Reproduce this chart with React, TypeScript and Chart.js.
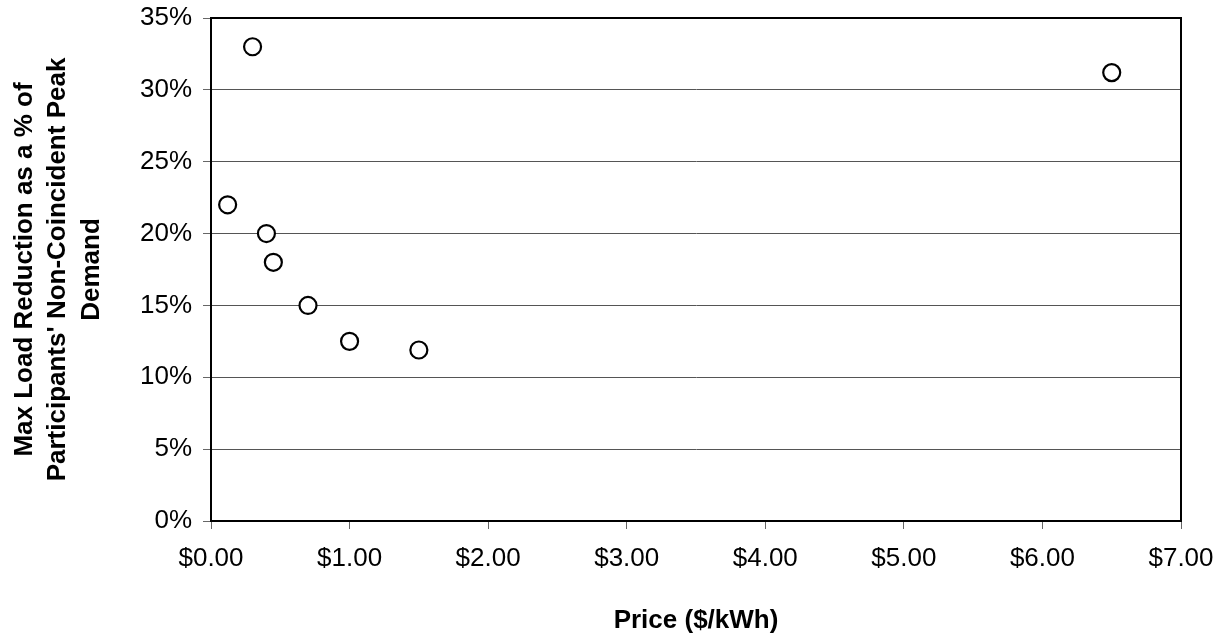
import React, { useEffect, useRef } from "react";
import { Chart, registerables } from "chart.js";

Chart.register(...registerables);

const prices = [0.3, 0.12, 0.4, 0.45, 0.7, 1.0, 1.5, 6.5];
const reductions = [33, 22, 20, 18, 15, 12.5, 11.9, 31.2];
const xTitle = "Price ($/kWh)";
const yTitleLines = [
  "Max Load Reduction as a % of",
  "Participants' Non-Coincident Peak",
  "Demand",
];

const FONT = "'Liberation Sans', Arial, sans-serif";

const frame = {
  id: "frame",
  afterDraw(chart: any) {
    const { ctx, chartArea } = chart;
    ctx.save();
    ctx.strokeStyle = "#000";
    ctx.lineWidth = 2;
    ctx.strokeRect(chartArea.left, chartArea.top, chartArea.right - chartArea.left, chartArea.bottom - chartArea.top);
    ctx.restore();
  },
};

export default function App() {
  const ref = useRef<HTMLCanvasElement>(null);
  useEffect(() => {
    if (!ref.current) return;
    const chart = new Chart(ref.current, {
      type: "scatter",
      data: {
        datasets: [
          {
            data: prices.map((p, i) => ({ x: p, y: reductions[i] })),
            pointRadius: 8.5,
            pointHoverRadius: 8.5,
            pointBackgroundColor: "#fff",
            pointBorderColor: "#000",
            pointBorderWidth: 2.2,
          },
        ],
      },
      options: {
        responsive: false,
        animation: false,
        devicePixelRatio: 1,
        layout: { padding: { top: 18, right: 38, left: 0, bottom: 0 } },
        plugins: { legend: { display: false }, tooltip: { enabled: false } },
        scales: {
          x: {
            type: "linear",
            min: 0,
            max: 7,
            afterFit: (s: any) => {
              s.height = 116;
              s.paddingLeft = 0;
              s.paddingRight = 0;
            },
            ticks: {
              stepSize: 1,
              color: "#000",
              padding: 14,
              font: { family: FONT, size: 26 },
              callback: (v: any) => "$" + Number(v).toFixed(2),
            },
            grid: { drawOnChartArea: false, drawTicks: true, tickLength: 8, tickColor: "#666", color: "#666" },
            border: { display: true, color: "#000", width: 2 },
            title: {
              display: true,
              text: xTitle,
              color: "#000",
              padding: { top: 0, bottom: 1 },
              font: { family: FONT, size: 26, weight: "bold", lineHeight: 1.2 },
            },
          },
          y: {
            type: "linear",
            min: 0,
            max: 35,
            afterFit: (s: any) => {
              s.width = 211;
              s.paddingTop = 0;
              s.paddingBottom = 0;
            },
            ticks: {
              stepSize: 5,
              color: "#000",
              padding: 11,
              font: { family: FONT, size: 26 },
              callback: (v: any) => v + "%",
            },
            grid: { color: "#555", lineWidth: 1, tickLength: 8, tickColor: "#666" },
            border: { display: true, color: "#000", width: 2 },
            title: {
              display: true,
              text: yTitleLines,
              color: "#000",
              padding: { top: 8, bottom: 0 },
              font: { family: FONT, size: 26, weight: "bold", lineHeight: 1.29 },
            },
          },
        },
      },
      plugins: [frame],
    } as any);
    return () => chart.destroy();
  }, []);
  return (
    <div style={{ position: "absolute", left: 0, top: 0, width: 1219, height: 637, background: "#fff" }}>
      <canvas ref={ref} width={1219} height={637} style={{ width: 1219, height: 637, display: "block" }} />
    </div>
  );
}
